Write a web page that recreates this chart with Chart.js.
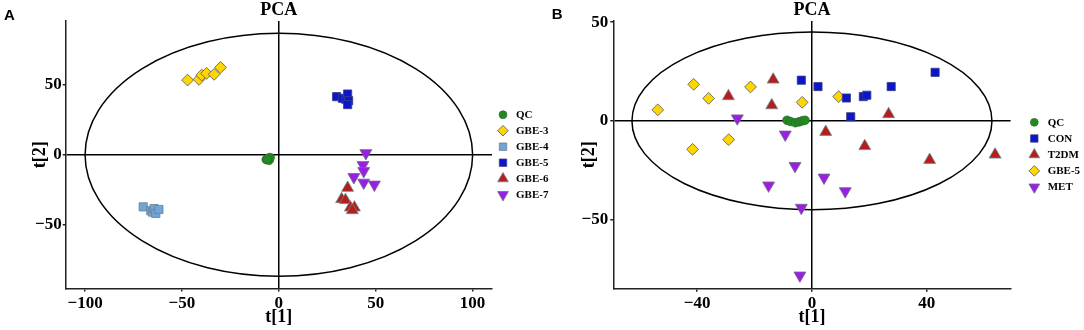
<!DOCTYPE html>
<html>
<head>
<meta charset="utf-8">
<script src="https://cdn.jsdelivr.net/npm/chart.js@4/dist/chart.umd.min.js"></script>
<style>
body { margin: 0; background: #fff; }
#wrap { position: relative; width: 1084px; height: 330px; overflow: hidden; }
canvas { position: absolute; top: 0; }
#pcaA { left: 0; }
#pcaB { left: 540px; }
</style>
</head>
<body>
<div id="wrap">
  <canvas id="pcaA" width="560" height="330"></canvas>
  <canvas id="pcaB" width="544" height="330"></canvas>
</div>
<script>
// ---- Panel A : scores t[1] / t[2] ----
const qcA_x   = [-6.5, -5.5, -5.0, -4.5, -6.0];
const qcA_y   = [-3.5, -2.5, -4.0, -2.0, -3.0];
const gbe3_x  = [-47.1, -41.2, -39.8, -37.3, -33.4, -30.1];
const gbe3_y  = [53.6, 54.1, 57.2, 58.4, 57.7, 62.7];
const gbe4_x  = [-70.0, -66.1, -65.1, -64.4, -63.5, -61.9];
const gbe4_y  = [-37.4, -40.2, -41.2, -38.6, -42.1, -39.3];
const gbe5_x  = [29.8, 32.8, 34.6, 35.5, 36.0, 35.5];
const gbe5_y  = [41.7, 40.5, 39.8, 43.6, 38.8, 36.0];
const gbe6_x  = [35.5, 32.4, 34.4, 36.9, 39.0, 37.9];
const gbe6_y  = [-23.8, -31.9, -32.6, -37.9, -37.9, -39.8];
const gbe7_x  = [44.9, 43.4, 43.8, 38.7, 43.8, 49.3];
const gbe7_y  = [1.2, -7.4, -11.7, -16.0, -20.0, -21.4];
const xTicksA = [-100, -50, 0, 50, 100];
const yTicksA = [-50, 0, 50];
const ellipseA = [100, 87.2];   // semi axes (t1, t2)

// ---- Panel B ----
const qcB_x   = [-8.7, -7.5, -5.8, -4.5, -3.4, -2.4];
const qcB_y   = [0.3, -0.3, -0.9, -0.5, 0.0, 0.3];
const con_x   = [-3.7, 2.1, 12.0, 17.9, 19.1, 27.6, 42.9, 13.5];
const con_y   = [20.6, 17.4, 11.6, 12.3, 13.0, 17.4, 24.6, 2.1];
const t2dm_x  = [-13.5, -29.1, -14.0, 4.8, 18.4, 26.7, 41.0, 63.8];
const t2dm_y  = [20.9, 12.5, 7.9, -5.6, -12.8, 3.4, -19.8, -17.1];
const gbe5b_x = [-53.7, -41.2, -36.0, -21.4, -3.4, 9.3, -29.0, -41.6];
const gbe5b_y = [5.6, 18.5, 11.4, 17.2, 9.4, 12.3, -9.5, -14.4];
const met_x   = [-26.0, -9.3, -5.9, -15.1, -3.7, 4.2, 11.6, -4.2];
const met_y   = [1.3, -6.9, -22.8, -32.7, -44.0, -28.7, -35.6, -78.3];
const xTicksB = [-40, 0, 40];
const yTicksB = [-50, 0, 50];
const ellipseB = [62.7, 45];

const SERIF = '"Liberation Serif", "Times New Roman", serif';
Chart.defaults.font.family = SERIF;
Chart.defaults.font.weight = 'bold';
Chart.defaults.color = '#000';

// marker styles
const mk = {
  qc:     { pointStyle: 'circle',  pointRadius: 4.3, backgroundColor: '#1f8c1f', borderColor: '#356635' },
  yellow: { pointStyle: 'rectRot', pointRadius: 5.9, backgroundColor: '#ffd700', borderColor: '#4f5070' },
  light:  { pointStyle: 'rect',    pointRadius: 5.8, backgroundColor: '#6fa6d6', borderColor: '#6a7f95' },
  blue:   { pointStyle: 'rect',    pointRadius: 5.8, backgroundColor: '#0b16c8', borderColor: '#3a3f88' },
  red:    { pointStyle: 'triangle',pointRadius: 6.9, backgroundColor: '#b41e1e', borderColor: '#6b8a8a' },
  purple: { pointStyle: 'triangle',pointRadius: 6.9, pointRotation: 180, backgroundColor: '#9b1fe3', borderColor: '#6a6a8a' }
};

function series(label, xs, ys, style) {
  return Object.assign({
    label: label,
    data: xs.map((x, i) => ({ x: x, y: ys[i] })),
    borderWidth: 0.8,
    pointHoverRadius: style.pointRadius
  }, style);
}

function minusFmt(v) { return v < 0 ? '\u2212' + Math.abs(v) : '' + v; }

// draw one marker shape like chart.js pointStyle
function marker(ctx, ds, x, y) {
  const r = ds.pointRadius, rot = (ds.pointRotation || 0) * Math.PI / 180;
  ctx.beginPath();
  if (ds.pointStyle === 'circle') {
    ctx.arc(x, y, r, 0, Math.PI * 2);
  } else if (ds.pointStyle === 'rect') {
    const s = r * Math.SQRT1_2;
    ctx.rect(x - s, y - s, 2 * s, 2 * s);
  } else if (ds.pointStyle === 'rectRot') {
    ctx.moveTo(x - r, y); ctx.lineTo(x, y - r); ctx.lineTo(x + r, y); ctx.lineTo(x, y + r);
  } else {
    let a = rot;
    ctx.moveTo(x + Math.sin(a) * r, y - Math.cos(a) * r);
    a += Math.PI * 2 / 3; ctx.lineTo(x + Math.sin(a) * r, y - Math.cos(a) * r);
    a += Math.PI * 2 / 3; ctx.lineTo(x + Math.sin(a) * r, y - Math.cos(a) * r);
  }
  ctx.closePath();
  ctx.fillStyle = ds.backgroundColor; ctx.fill();
  ctx.lineWidth = ds.borderWidth; ctx.strokeStyle = ds.borderColor; ctx.stroke();
}

// ellipse, legend on the right and panel letter
const pcaDecor = {
  id: 'pcaDecor',
  beforeDatasetsDraw(chart, args, o) {
    const ctx = chart.ctx, xs = chart.scales.x, ys = chart.scales.y;
    const cx = xs.getPixelForValue(0), cy = ys.getPixelForValue(0);
    const rx = Math.abs(xs.getPixelForValue(o.ellipse[0]) - cx);
    const ry = Math.abs(ys.getPixelForValue(o.ellipse[1]) - cy);
    ctx.save();
    ctx.beginPath();
    ctx.ellipse(cx, cy, rx, ry, 0, 0, Math.PI * 2);
    ctx.lineWidth = 1.5; ctx.strokeStyle = '#000'; ctx.stroke();
    ctx.restore();
  },
  afterDraw(chart, args, o) {
    const ctx = chart.ctx;
    ctx.save();
    chart.data.datasets.forEach((ds, i) => {
      const y = o.legendY + i * o.legendStep;
      marker(ctx, Object.assign({}, ds, { pointRadius: ds.pointRadius * 0.9 }), o.symbolX, y);
      ctx.fillStyle = '#000';
      ctx.font = 'bold 11px ' + SERIF;
      ctx.textBaseline = 'middle';
      ctx.textAlign = 'left';
      ctx.fillText(ds.label, o.textX, y + 0.5);
    });
    ctx.font = 'bold 15px "Liberation Sans", Arial, sans-serif';
    ctx.textBaseline = 'alphabetic';
    ctx.fillText(o.letter, o.letterX, o.letterY);
    ctx.restore();
  }
};

function pcaOptions(cfg) {
  return {
    responsive: false,
    animation: false,
    devicePixelRatio: 1,
    layout: { padding: { left: 0, right: cfg.padRight, top: 0, bottom: 0 } },
    plugins: {
      legend: { display: false },
      tooltip: { enabled: false },
      title: {
        display: true, text: 'PCA', fullSize: false,
        padding: 0, color: '#000',
        font: { size: 18, weight: 'bold', lineHeight: 21 / 18 }
      },
      pcaDecor: cfg.decor
    },
    scales: {
      x: {
        type: 'linear', min: cfg.xMin, max: cfg.xMax,
        afterBuildTicks: s => { s.ticks = cfg.xTicks.map(v => ({ value: v })); },
        afterFit: s => { s.height = 330 - cfg.bottom; },
        grid: {
          drawOnChartArea: true, drawTicks: true, tickLength: 3, lineWidth: 1.5,
          color: c => (c.tick && c.tick.value === 0) ? '#000' : 'rgba(0,0,0,0)',
          tickColor: '#222'
        },
        border: { display: true, color: '#222', width: 1.5 },
        ticks: { padding: 2, color: '#000', font: { size: 17, weight: 'bold' }, callback: minusFmt, maxRotation: 0 },
        title: { display: true, text: 't[1]', color: '#000', font: { size: 18, weight: 'bold' }, padding: { top: 0, bottom: 2 } }
      },
      y: {
        type: 'linear', min: cfg.yMin, max: cfg.yMax,
        afterBuildTicks: s => { s.ticks = cfg.yTicks.map(v => ({ value: v })); },
        afterFit: s => { s.width = cfg.left; },
        grid: {
          drawOnChartArea: true, drawTicks: true, tickLength: 3, lineWidth: 1.5,
          color: c => (c.tick && c.tick.value === 0) ? '#000' : 'rgba(0,0,0,0)',
          tickColor: '#222'
        },
        border: { display: true, color: '#222', width: 1.5 },
        ticks: { padding: cfg.yPad, color: '#000', font: { size: 17, weight: 'bold' }, callback: minusFmt },
        title: { display: true, text: 't[2]', color: '#000', font: { size: 18, weight: 'bold' }, padding: { top: cfg.yTitlePad, bottom: 0 } }
      }
    }
  };
}

// Panel A
new Chart(document.getElementById('pcaA'), {
  type: 'scatter',
  data: {
    datasets: [
      series('QC', qcA_x, qcA_y, mk.qc),
      series('GBE-3', gbe3_x, gbe3_y, mk.yellow),
      series('GBE-4', gbe4_x, gbe4_y, mk.light),
      series('GBE-5', gbe5_x, gbe5_y, mk.blue),
      series('GBE-6', gbe6_x, gbe6_y, mk.red),
      series('GBE-7', gbe7_x, gbe7_y, mk.purple)
    ]
  },
  options: pcaOptions({
    padRight: 68, left: 65.7, bottom: 288.5,
    xMin: -110, xMax: 110, yMin: -96, yMax: 96,
    xTicks: xTicksA, yTicks: yTicksA, yPad: 1, yTitlePad: 30,
    decor: { ellipse: ellipseA, symbolX: 503, textX: 516, legendY: 114.7, legendStep: 16,
             letter: 'A', letterX: 4, letterY: 20 }
  }),
  plugins: [pcaDecor]
});

// Panel B
new Chart(document.getElementById('pcaB'), {
  type: 'scatter',
  data: {
    datasets: [
      series('QC', qcB_x, qcB_y, mk.qc),
      series('CON', con_x, con_y, mk.blue),
      series('T2DM', t2dm_x, t2dm_y, mk.red),
      series('GBE-5', gbe5b_x, gbe5b_y, mk.yellow),
      series('MET', met_x, met_y, mk.purple)
    ]
  },
  options: pcaOptions({
    padRight: 73.4, left: 73.3, bottom: 288.7,
    xMin: -69.2, xMax: 69.2, yMin: -85, yMax: 50.6,
    xTicks: xTicksB, yTicks: yTicksB, yPad: 2, yTitlePad: 39,
    decor: { ellipse: ellipseB, symbolX: 494.3, textX: 507.7, legendY: 122.3, legendStep: 16.2,
             letter: 'B', letterX: 11.7, letterY: 19.3 }
  }),
  plugins: [pcaDecor]
});
</script>
</body>
</html>
